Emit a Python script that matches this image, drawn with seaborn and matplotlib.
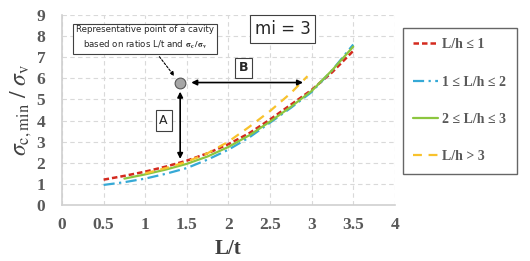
import pandas as pd
import matplotlib.pyplot as plt
import seaborn as sns

# curve values (L/t vs sigma_c,min / sigma_v)
lt_red = [0.5, 0.75, 1.0, 1.25, 1.5, 1.75, 2.0, 2.25, 2.5, 2.75, 3.0, 3.25, 3.5]
sig_red = [1.2, 1.38, 1.58, 1.82, 2.1, 2.45, 2.88, 3.4, 4.05, 4.75, 5.45, 6.3, 7.3]

lt_blue = [0.5, 0.75, 1.0, 1.25, 1.5, 1.75, 2.0, 2.25, 2.5, 2.75, 3.0, 3.25, 3.5]
sig_blue = [0.95, 1.08, 1.25, 1.48, 1.75, 2.15, 2.62, 3.2, 3.9, 4.6, 5.35, 6.4, 7.6]

lt_green = [0.75, 1.0, 1.25, 1.5, 1.75, 2.0, 2.25, 2.5, 2.75, 3.0, 3.25, 3.5]
sig_green = [1.25, 1.45, 1.68, 1.95, 2.3, 2.75, 3.3, 3.95, 4.65, 5.4, 6.4, 7.5]

lt_yellow = [1.0, 1.25, 1.5, 1.75, 2.0, 2.25, 2.5, 2.75, 2.95]
sig_yellow = [1.5, 1.75, 2.05, 2.45, 3.0, 3.7, 4.45, 5.3, 6.1]

labels = ['L/h ≤ 1', '1 ≤ L/h ≤ 2', '2 ≤ L/h ≤ 3', 'L/h > 3']
point_x, point_y = 1.42, 5.8

sns.set_style('whitegrid')
plt.rcParams['mathtext.fontset'] = 'stix'
serif = ['Liberation Serif', 'DejaVu Serif']

fig = plt.figure(figsize=(5.3, 2.61), dpi=100)
ax = fig.add_axes([0.117, 0.2146, 0.628, 0.728])

series = [
    (lt_red, sig_red, labels[0], '#d42a1f', (0, (2.2, 1.2)), 1.8),
    (lt_blue, sig_blue, labels[1], '#36a9d6', (0, (5, 2, 1, 2)), 1.6),
    (lt_green, sig_green, labels[2], '#8cc63f', '-', 1.6),
    (lt_yellow, sig_yellow, labels[3], '#f8c22c', (0, (4, 3)), 1.6),
]
for x, y, lab, col, ls, lw in series:
    df = pd.DataFrame({'L/t': x, 'sig': y})
    sns.lineplot(data=df, x='L/t', y='sig', ax=ax, color=col, linestyle=ls,
                 linewidth=lw, label=lab)

ax.set_xlim(0, 4)
ax.set_ylim(0, 9)
ax.set_xticks([0, 0.5, 1, 1.5, 2, 2.5, 3, 3.5, 4])
ax.set_xticklabels(['0', '0.5', '1', '1.5', '2', '2.5', '3', '3.5', '4'])
ax.set_yticks(range(10))
ax.grid(True, color='#d9d9d9', linestyle=(0, (4, 3)), linewidth=0.8)
for s in ['top', 'right']:
    ax.spines[s].set_visible(False)
for s in ['left', 'bottom']:
    ax.spines[s].set_color('#d0d0d0')
    ax.spines[s].set_linewidth(1.2)
ax.tick_params(axis='y', length=0, pad=12)
ax.tick_params(axis='x', length=0, pad=9)
for t in ax.get_xticklabels() + ax.get_yticklabels():
    t.set_family(serif)
    t.set_fontsize(12.5)
    t.set_color('#595959')
    t.set_fontweight('bold')

ax.set_xlabel('L/t', family=serif, fontsize=15, fontweight='bold', color='#404040', labelpad=4)
ax.set_ylabel(r'$\sigma_{\mathrm{c,min}}\ /\ \sigma_{\mathrm{v}}$', fontsize=17,
              color='#404040', labelpad=2)

# representative point and arrows
ax.scatter([point_x], [point_y], s=60, color='#a6a6a6', edgecolor='#555555', linewidth=0.8, zorder=5)
ax.annotate('', xy=(point_x, 2.05), xytext=(point_x, point_y - 0.3),
            arrowprops=dict(arrowstyle='<|-|>', color='black', lw=1.2, mutation_scale=8))
ax.annotate('', xy=(2.93, point_y), xytext=(point_x + 0.1, point_y),
            arrowprops=dict(arrowstyle='<|-|>', color='black', lw=1.2, mutation_scale=8))
box = dict(boxstyle='square,pad=0.3', fc='white', ec='#404040', lw=0.8)
ax.text(1.22, 4.0, 'A', ha='center', va='center', fontsize=9, family='DejaVu Sans', bbox=box)
ax.text(2.18, 6.5, 'B', ha='center', va='center', fontsize=9, family='DejaVu Sans',
        fontweight='bold', bbox=box)
ax.text(2.65, 8.35, 'mi = 3', ha='center', va='center', fontsize=12, family='DejaVu Sans',
        bbox=dict(boxstyle='square,pad=0.3', fc='white', ec='#404040', lw=0.8))
ax.annotate('Representative point of a cavity\nbased on ratios L/t and $\\mathbf{\\sigma_c\\,/\\,\\sigma_v}$',
            xy=(point_x - 0.05, point_y + 0.2), xytext=(1.0, 7.9), ha='center', va='center',
            fontsize=6.2, family='DejaVu Sans', linespacing=1.5,
            bbox=dict(boxstyle='square,pad=0.35', fc='white', ec='#404040', lw=0.8),
            arrowprops=dict(arrowstyle='-|>', linestyle=(0, (2, 1.5)), color='black',
                            lw=0.8, mutation_scale=6))

ax.get_legend().remove()
h, l = ax.get_legend_handles_labels()
leg = fig.legend(h, l, loc='upper left', bbox_to_anchor=(0.76, 0.893), borderaxespad=0,
                 frameon=True, fancybox=False, edgecolor='#404040', handlelength=1.8,
                 labelspacing=1.75, borderpad=0.75, handletextpad=0.3,
                 prop={'family': serif, 'weight': 'bold', 'size': 10})
leg.get_frame().set_linewidth(1.0)
for t in leg.get_texts():
    t.set_color('#595959')

fig.savefig('out.png', dpi=100)
